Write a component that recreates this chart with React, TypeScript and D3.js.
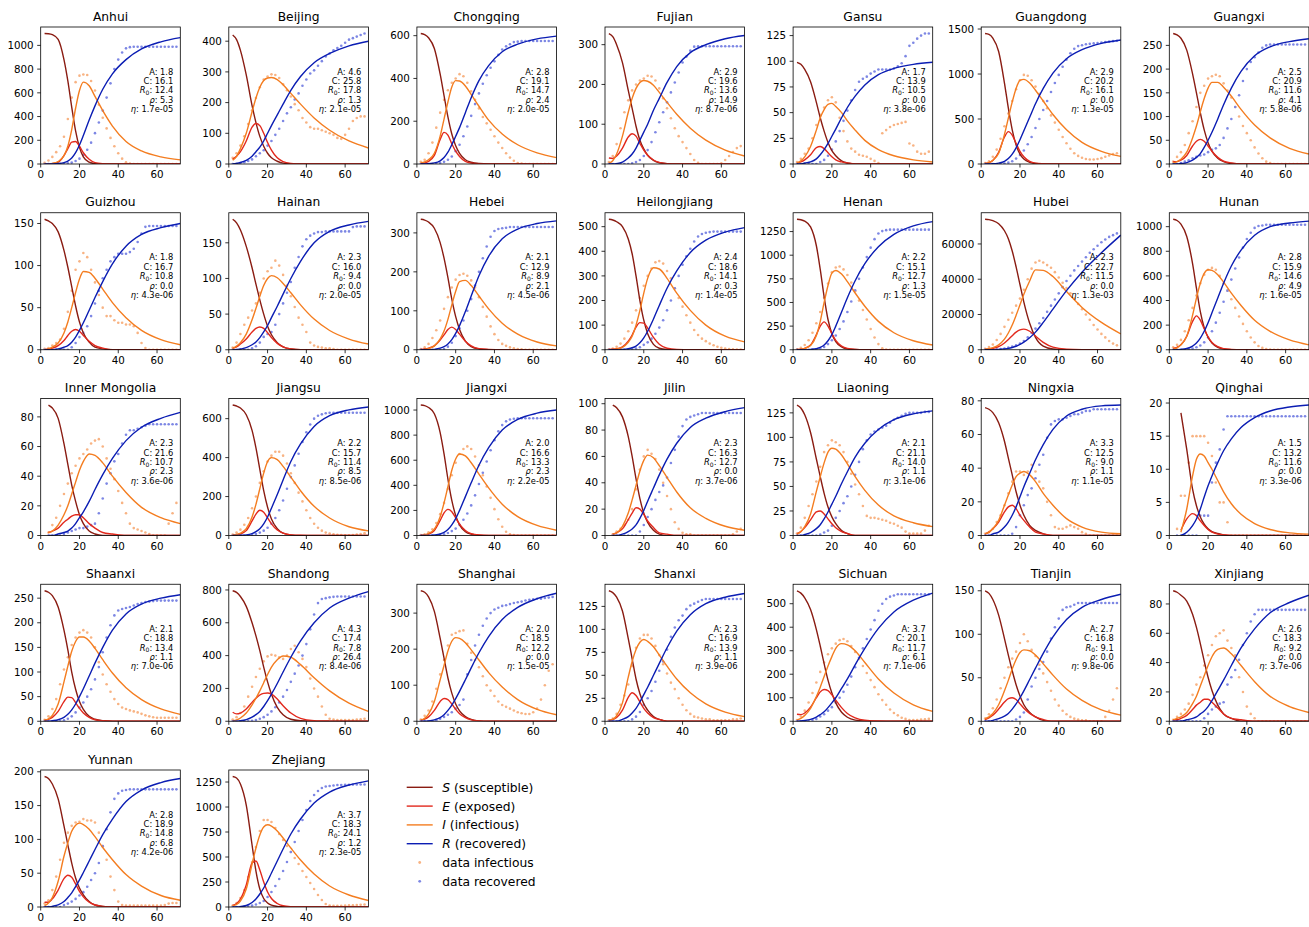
import React from "react";
import * as d3 from "d3";

// model time samples (days) and data days
const tModel = [2, 4, 6, 9, 12, 14, 16, 18, 20, 22, 25, 28, 32, 37, 44, 52, 62, 72];
const tData = [2, 4, 6, 8, 10, 12, 14, 16, 18, 20, 22, 24, 26, 28, 30, 32, 34, 36, 38, 40, 42, 44, 46, 48, 50, 52, 54, 56, 58, 60, 62, 64, 66, 68, 70];
const xTicks = [0, 20, 40, 60];

type V = number | null;

// ---------- Anhui
const anhui_S: V[] = [1100, 1098, 1090, 1050, 880, 700, 480, 280, 140, 60, 15, 3, 0, 0, 0, 0, 0, 0];
const anhui_E: V[] = [0, 1, 3, 15, 70, 130, 185, 190, 150, 95, 40, 12, 3, 0, 0, 0, 0, 0];
const anhui_I: V[] = [0, 2, 5, 20, 70, 150, 290, 470, 620, 690, 660, 570, 450, 320, 190, 110, 60, 35];
const anhui_R: V[] = [0, 0, 1, 4, 12, 25, 50, 95, 160, 240, 370, 490, 630, 760, 880, 970, 1030, 1065];
const anhui_dI: V[] = [10, 30, 60, 100, 150, 230, 380, 560, 690, 745, 755, 750, 700, 620, 500, 390, 300, 220, 150, 90, 45, 15, 3, 0, 0, 0, 0, 0, 0, 0, 0, 0, 0, 0, 0];
const anhui_dR: V[] = [0, 0, 0, 0, 0, 0, 5, 12, 25, 45, 75, 120, 180, 260, 350, 450, 560, 680, 800, 880, 940, 975, 985, 988, 988, 988, 988, 988, 988, 988, 988, 988, 988, 988, 988];
const anhui_p = ["1.8", "16.1", "12.4", "5.3", "1.7e-05"];

// ---------- Beijing
const beijing_S: V[] = [420, 405, 370, 290, 190, 135, 90, 58, 35, 20, 9, 3, 1, 0, 0, 0, 0, 0];
const beijing_E: V[] = [15, 25, 40, 75, 120, 132, 125, 100, 70, 45, 20, 8, 2, 0, 0, 0, 0, 0];
const beijing_I: V[] = [12, 25, 50, 100, 170, 215, 250, 272, 280, 282, 275, 258, 230, 195, 150, 110, 75, 52];
const beijing_R: V[] = [0, 2, 5, 12, 25, 40, 55, 75, 100, 125, 160, 195, 240, 285, 330, 360, 385, 400];
const beijing_dI: V[] = [20, 35, 60, 90, 130, 175, 215, 250, 275, 285, 292, 290, 280, 260, 240, 220, 195, 175, 150, 135, 120, 115, 115, 110, 105, 100, 95, 85, 82, 95, 115, 140, 150, 155, 155];
const beijing_dR: V[] = [0, 1, 3, 6, 10, 15, 25, 35, 45, 60, 75, 95, 115, 140, 165, 185, 210, 230, 255, 275, 295, 305, 320, 335, 350, 360, 370, 378, 385, 395, 405, 410, 415, 420, 425];
const beijing_p = ["4.6", "25.8", "17.8", "1.3", "2.1e-05"];

// ---------- Chongqing
const chongqing_S: V[] = [610, 605, 590, 540, 420, 320, 220, 140, 85, 50, 20, 8, 2, 0, 0, 0, 0, 0];
const chongqing_E: V[] = [2, 5, 12, 40, 115, 148, 135, 95, 60, 35, 12, 4, 1, 0, 0, 0, 0, 0];
const chongqing_I: V[] = [5, 10, 20, 50, 130, 210, 290, 360, 390, 388, 365, 325, 270, 205, 140, 90, 52, 30];
const chongqing_R: V[] = [0, 0, 2, 5, 15, 30, 55, 90, 130, 170, 240, 310, 390, 460, 525, 560, 585, 598];
const chongqing_dI: V[] = [10, 20, 50, 100, 170, 240, 300, 345, 380, 400, 420, 410, 380, 340, 300, 260, 220, 190, 160, 130, 100, 75, 50, 30, 15, 5, 2, 0, 0, 0, 0, 0, 0, 0, 0];
const chongqing_dR: V[] = [0, 0, 0, 0, 0, 5, 10, 20, 35, 60, 90, 130, 175, 225, 280, 330, 375, 415, 450, 480, 510, 535, 550, 560, 570, 572, 575, 575, 575, 575, 575, 575, 575, 575, 575];
const chongqing_p = ["2.8", "19.1", "14.7", "2.4", "2.0e-05"];

// ---------- Fujian
const fujian_S: V[] = [328, 320, 300, 255, 185, 140, 95, 60, 38, 22, 9, 3, 1, 0, 0, 0, 0, 0];
const fujian_E: V[] = [15, 14, 20, 40, 68, 76, 70, 52, 35, 22, 10, 4, 1, 0, 0, 0, 0, 0];
const fujian_I: V[] = [2, 8, 25, 70, 130, 165, 190, 205, 210, 208, 198, 180, 155, 125, 90, 60, 35, 20];
const fujian_R: V[] = [0, 0, 1, 5, 15, 25, 40, 60, 80, 100, 135, 165, 205, 245, 280, 300, 315, 323];
const fujian_dI: V[] = [5, 20, 50, 90, 130, 160, 185, 200, 210, 215, 222, 220, 210, 190, 165, 140, 115, 90, 70, 55, 40, 25, 10, 3, 0, 0, 0, 0, 0, 2, 10, 20, 30, 40, 45];
const fujian_dR: V[] = [0, 0, 0, 0, 0, 0, 2, 5, 10, 20, 35, 55, 80, 105, 130, 155, 180, 205, 230, 255, 270, 285, 295, 296, 296, 296, 296, 296, 296, 296, 296, 296, 296, 296, 296];
const fujian_p = ["2.9", "19.6", "13.6", "14.9", "8.7e-06"];

// ---------- Gansu
const gansu_S: V[] = [99, 97, 92, 80, 60, 45, 32, 21, 13, 8, 3, 1, 0, 0, 0, 0, 0, 0];
const gansu_E: V[] = [1, 2, 4, 9, 16, 17, 15, 11, 7, 4, 2, 1, 0, 0, 0, 0, 0, 0];
const gansu_I: V[] = [1, 3, 7, 17, 33, 45, 53, 58, 59, 56, 50, 42, 33, 23, 14, 8, 4, 2];
const gansu_R: V[] = [0, 0, 1, 2, 5, 9, 14, 20, 27, 34, 45, 55, 66, 77, 87, 93, 97, 99];
const gansu_dI: V[] = [2, 5, 10, 15, 25, 38, 48, 55, 62, 65, 60, 45, 32, 22, 15, 12, 9, 8, 7, 5, 3, 1, 30, 33, 36, 38, 39, 40, 41, 20, 18, 12, 10, 10, 12];
const gansu_dR: V[] = [0, 0, 0, 0, 0, 0, 2, 4, 8, 14, 22, 32, 42, 52, 62, 72, 80, 83, 85, 88, 90, 92, 92, 92, 92, 93, 95, 98, 105, 115, 118, 122, 125, 127, 127];
const gansu_p = ["1.7", "13.9", "10.5", "0.0", "3.8e-06"];

// ---------- Guangdong
const guangdong_S: V[] = [1450, 1440, 1400, 1250, 900, 620, 380, 210, 110, 55, 18, 5, 1, 0, 0, 0, 0, 0];
const guangdong_E: V[] = [5, 15, 40, 130, 300, 360, 320, 230, 140, 80, 30, 10, 3, 0, 0, 0, 0, 0];
const guangdong_I: V[] = [5, 15, 40, 120, 330, 510, 690, 840, 930, 940, 900, 820, 700, 550, 380, 240, 140, 85];
const guangdong_R: V[] = [0, 0, 2, 10, 30, 60, 110, 180, 270, 370, 520, 670, 840, 1010, 1170, 1270, 1340, 1378];
const guangdong_dI: V[] = [10, 30, 80, 160, 280, 420, 560, 700, 830, 930, 990, 980, 930, 860, 780, 700, 620, 540, 460, 380, 300, 230, 170, 120, 90, 70, 55, 50, 50, 55, 65, 80, 95, 110, 120];
const guangdong_dR: V[] = [0, 0, 0, 0, 0, 5, 15, 30, 60, 100, 150, 220, 300, 400, 500, 600, 700, 800, 900, 990, 1080, 1160, 1230, 1280, 1310, 1320, 1330, 1335, 1340, 1345, 1350, 1355, 1360, 1365, 1370];
const guangdong_p = ["2.9", "20.2", "16.1", "0.0", "1.3e-05"];

// ---------- Guangxi
const guangxi_S: V[] = [275, 272, 265, 240, 190, 150, 108, 72, 45, 27, 12, 5, 1, 0, 0, 0, 0, 0];
const guangxi_E: V[] = [5, 5, 8, 18, 38, 48, 52, 48, 38, 27, 14, 6, 2, 0, 0, 0, 0, 0];
const guangxi_I: V[] = [2, 5, 10, 25, 55, 80, 110, 138, 160, 172, 172, 162, 143, 115, 82, 55, 33, 21];
const guangxi_R: V[] = [0, 0, 1, 3, 8, 14, 22, 35, 50, 67, 95, 125, 160, 195, 228, 247, 258, 264];
const guangxi_dI: V[] = [5, 15, 25, 40, 65, 90, 120, 150, 165, 180, 185, 188, 185, 170, 155, 140, 120, 100, 80, 65, 50, 35, 22, 12, 5, 2, 0, 0, 0, 0, 0, 0, 0, 0, 0];
const guangxi_dR: V[] = [0, 0, 2, 5, 8, 12, 15, 18, 20, 25, 30, 33, 40, 55, 75, 95, 120, 145, 175, 200, 215, 225, 235, 245, 250, 252, 252, 252, 252, 252, 252, 252, 252, 252, 252];
const guangxi_p = ["2.5", "20.9", "11.6", "4.1", "5.8e-06"];

// ---------- Guizhou
const guizhou_S: V[] = [155, 153, 150, 140, 118, 98, 75, 52, 33, 20, 9, 3, 1, 0, 0, 0, 0, 0];
const guizhou_E: V[] = [0, 1, 2, 5, 11, 17, 22, 24, 22, 17, 10, 5, 2, 0, 0, 0, 0, 0];
const guizhou_I: V[] = [0, 1, 3, 8, 20, 33, 50, 68, 84, 93, 92, 85, 72, 56, 38, 23, 12, 6];
const guizhou_R: V[] = [0, 0, 0, 1, 3, 5, 9, 15, 23, 32, 47, 62, 81, 102, 123, 137, 145, 150];
const guizhou_dI: V[] = [1, 2, 5, 8, 12, 25, 45, 70, 95, 105, 115, 110, 95, 80, 65, 50, 40, 40, 35, 32, 32, 30, 30, 28, 20, 8, 2, 0, 0, 0, 0, 0, 0, 0, 0];
const guizhou_dR: V[] = [0, 0, 0, 0, 0, 0, 0, 3, 8, 15, 20, 28, 40, 55, 70, 85, 95, 105, 110, 114, 114, 114, 116, 120, 128, 138, 146, 147, 147, 147, 147, 147, 147, 147, 147];
const guizhou_p = ["1.8", "16.7", "10.8", "0.0", "4.3e-06"];

// ---------- Hainan
const hainan_S: V[] = [183, 178, 168, 145, 115, 92, 70, 50, 33, 21, 10, 4, 1, 0, 0, 0, 0, 0];
const hainan_E: V[] = [2, 4, 8, 15, 25, 30, 32, 30, 24, 17, 9, 4, 1, 0, 0, 0, 0, 0];
const hainan_I: V[] = [2, 5, 10, 22, 42, 58, 75, 90, 100, 104, 101, 93, 80, 63, 43, 27, 15, 8];
const hainan_R: V[] = [0, 0, 1, 3, 7, 11, 17, 25, 34, 45, 61, 78, 100, 124, 150, 166, 175, 180];
const hainan_dI: V[] = [3, 10, 22, 35, 45, 55, 65, 80, 100, 110, 115, 125, 118, 105, 90, 75, 60, 45, 35, 25, 10, 6, 4, 3, 2, 2, 1, 0, 0, 0, 0, 0, 0, 0, 0];
const hainan_dR: V[] = [0, 0, 0, 0, 0, 2, 5, 10, 18, 22, 25, 35, 50, 65, 80, 95, 115, 130, 145, 155, 160, 163, 165, 165, 166, 166, 166, 166, 166, 166, 166, 172, 173, 173, 173];
const hainan_p = ["2.3", "16.0", "9.4", "0.0", "2.0e-05"];

// ---------- Hebei
const hebei_S: V[] = [335, 333, 328, 312, 275, 235, 185, 130, 85, 52, 22, 8, 2, 0, 0, 0, 0, 0];
const hebei_E: V[] = [1, 2, 4, 10, 25, 38, 52, 58, 52, 40, 22, 10, 3, 1, 0, 0, 0, 0];
const hebei_I: V[] = [0, 1, 3, 10, 28, 48, 78, 115, 150, 175, 178, 165, 138, 105, 68, 40, 20, 10];
const hebei_R: V[] = [0, 0, 0, 1, 4, 8, 15, 26, 42, 62, 98, 138, 190, 240, 285, 310, 324, 331];
const hebei_dI: V[] = [2, 6, 15, 30, 50, 75, 105, 135, 160, 180, 192, 195, 190, 178, 160, 135, 110, 85, 60, 40, 25, 15, 10, 6, 4, 2, 1, 0, 0, 0, 0, 0, 0, 0, 0];
const hebei_dR: V[] = [0, 0, 0, 0, 0, 0, 2, 8, 18, 35, 55, 75, 100, 130, 165, 200, 235, 265, 290, 305, 310, 312, 313, 315, 315, 315, 315, 315, 315, 315, 315, 315, 315, 315, 315];
const hebei_p = ["2.1", "12.9", "8.9", "2.1", "4.5e-06"];

// ---------- Heilongjiang
const heilongjiang_S: V[] = [530, 527, 520, 500, 450, 390, 300, 200, 120, 65, 22, 6, 1, 0, 0, 0, 0, 0];
const heilongjiang_E: V[] = [1, 2, 4, 12, 35, 60, 92, 110, 108, 88, 50, 22, 6, 1, 0, 0, 0, 0];
const heilongjiang_I: V[] = [0, 1, 3, 10, 30, 55, 100, 160, 230, 290, 333, 328, 290, 230, 160, 100, 55, 32];
const heilongjiang_R: V[] = [0, 0, 0, 1, 4, 8, 15, 28, 48, 75, 125, 180, 250, 320, 395, 445, 478, 496];
const heilongjiang_dI: V[] = [2, 5, 12, 25, 45, 75, 110, 160, 210, 260, 300, 330, 355, 360, 350, 320, 290, 250, 210, 175, 140, 110, 80, 60, 45, 35, 25, 18, 12, 8, 5, 3, 2, 1, 1];
const heilongjiang_dR: V[] = [0, 0, 0, 0, 0, 0, 2, 5, 10, 20, 30, 45, 65, 90, 120, 160, 200, 250, 300, 345, 380, 410, 440, 460, 470, 475, 478, 480, 480, 480, 480, 480, 480, 480, 480];
const heilongjiang_p = ["2.4", "18.6", "14.1", "0.3", "1.4e-05"];

// ---------- Henan
const henan_S: V[] = [1380, 1375, 1360, 1300, 1100, 850, 560, 320, 170, 85, 30, 8, 2, 0, 0, 0, 0, 0];
const henan_E: V[] = [2, 5, 15, 50, 160, 250, 295, 250, 170, 100, 40, 14, 4, 1, 0, 0, 0, 0];
const henan_I: V[] = [2, 6, 15, 45, 150, 300, 500, 680, 810, 838, 800, 720, 600, 460, 300, 180, 95, 50];
const henan_R: V[] = [0, 0, 1, 4, 12, 25, 50, 95, 160, 250, 400, 550, 730, 910, 1090, 1220, 1310, 1355];
const henan_dI: V[] = [5, 20, 50, 100, 180, 280, 400, 550, 700, 820, 870, 880, 850, 790, 710, 620, 520, 420, 320, 220, 130, 60, 15, 2, 0, 0, 0, 0, 0, 0, 0, 0, 0, 0, 0];
const henan_dR: V[] = [0, 0, 0, 0, 0, 5, 15, 30, 60, 100, 150, 220, 300, 400, 510, 630, 750, 870, 980, 1080, 1170, 1230, 1255, 1265, 1270, 1270, 1270, 1270, 1270, 1270, 1270, 1270, 1270, 1270, 1270];
const henan_p = ["2.2", "15.1", "12.7", "1.3", "1.5e-05"];

// ---------- Hubei
const hubei_S: V[] = [74000, 73800, 73200, 71500, 67500, 63000, 56000, 47000, 37000, 27000, 15000, 7000, 2000, 400, 50, 0, 0, 0];
const hubei_E: V[] = [200, 400, 800, 1800, 3800, 5800, 8000, 10000, 11300, 11700, 10500, 7800, 4200, 1500, 300, 50, 0, 0];
const hubei_I: V[] = [300, 600, 1200, 2800, 6000, 9500, 14000, 19500, 25500, 31500, 39000, 45300, 45000, 41500, 33000, 24000, 15500, 9000];
const hubei_R: V[] = [0, 20, 60, 200, 500, 800, 1300, 2000, 3000, 4300, 6800, 10000, 15500, 23000, 33500, 44000, 55000, 65000];
const hubei_dI: V[] = [500, 1500, 3000, 5500, 9000, 13000, 17000, 21000, 25000, 29000, 34000, 40000, 46000, 49500, 50500, 49500, 48000, 46500, 44000, 41000, 38000, 35000, 32000, 29000, 26000, 23000, 20000, 17000, 14000, 11500, 9000, 7000, 5000, 3500, 2500];
const hubei_dR: V[] = [0, 0, 100, 200, 400, 700, 1200, 1800, 2500, 3500, 5000, 7000, 9500, 12000, 15000, 18000, 21500, 25000, 28500, 32000, 35500, 39000, 42000, 45000, 47500, 50000, 52500, 55000, 57000, 59000, 61000, 62500, 64000, 65000, 66000];
const hubei_p = ["2.3", "22.7", "11.5", "0.0", "1.3e-03"];

// ---------- Hunan
const hunan_S: V[] = [1060, 1050, 1020, 920, 700, 500, 310, 180, 100, 55, 20, 6, 1, 0, 0, 0, 0, 0];
const hunan_E: V[] = [10, 20, 40, 110, 230, 275, 240, 170, 105, 60, 25, 9, 3, 0, 0, 0, 0, 0];
const hunan_I: V[] = [5, 15, 40, 110, 280, 420, 540, 620, 650, 645, 610, 550, 460, 360, 240, 150, 80, 40];
const hunan_R: V[] = [0, 1, 3, 10, 30, 55, 95, 150, 220, 300, 420, 540, 680, 810, 930, 1000, 1030, 1045];
const hunan_dI: V[] = [20, 40, 80, 150, 240, 340, 440, 540, 610, 650, 665, 650, 600, 540, 480, 410, 340, 270, 210, 150, 100, 60, 30, 15, 5, 2, 0, 0, 0, 0, 0, 0, 0, 0, 0];
const hunan_dR: V[] = [0, 0, 0, 0, 5, 10, 20, 35, 60, 100, 150, 220, 300, 390, 480, 570, 660, 750, 830, 900, 950, 990, 1005, 1010, 1015, 1015, 1015, 1015, 1015, 1015, 1015, 1015, 1015, 1015, 1015];
const hunan_p = ["2.8", "15.9", "14.6", "4.9", "1.6e-05"];

// ---------- Inner Mongolia
const innermongolia_S: V[] = [null, 88, 86, 79, 62, 48, 34, 23, 14, 8, 3, 1, 0, 0, 0, 0, 0, 0];
const innermongolia_E: V[] = [null, 2, 3, 5, 9, 11, 13, 14, 14, 12, 8, 5, 2, 1, 0, 0, 0, 0];
const innermongolia_I: V[] = [null, 2, 3, 7, 14, 20, 28, 36, 44, 50, 55, 54, 49, 40, 29, 19, 12, 8];
const innermongolia_R: V[] = [null, 0, 0, 1, 2, 3, 5, 8, 12, 16, 23, 31, 41, 52, 64, 73, 79, 83];
const innermongolia_dI: V[] = [null, 2, 7, 12, 20, 28, 35, 42, 47, 52, 55, 58, 62, 64, 65, 60, 52, 45, 38, 30, 22, 15, 8, 5, 4, 3, 2, 1, 0, 0, 0, 0, 8, 15, 22];
const innermongolia_dR: V[] = [null, 0, 0, 0, 0, 1, 2, 3, 4, 5, 5, 6, 7, 8, 15, 25, 35, 42, 50, 55, 62, 68, 71, 71, 72, 73, 74, 75, 75, 75, 75, 75, 75, 75, 75];
const innermongolia_p = ["2.3", "21.6", "10.7", "2.3", "3.6e-06"];

// ---------- Jiangsu
const jiangsu_S: V[] = [670, 665, 655, 620, 540, 450, 340, 230, 145, 85, 35, 12, 3, 0, 0, 0, 0, 0];
const jiangsu_E: V[] = [2, 4, 8, 25, 75, 110, 130, 120, 90, 60, 28, 12, 3, 1, 0, 0, 0, 0];
const jiangsu_I: V[] = [2, 5, 12, 35, 95, 160, 240, 320, 380, 400, 390, 355, 300, 230, 150, 90, 45, 24];
const jiangsu_R: V[] = [0, 0, 1, 3, 10, 20, 35, 60, 95, 140, 210, 285, 380, 470, 560, 615, 645, 660];
const jiangsu_dI: V[] = [5, 15, 30, 55, 90, 140, 200, 270, 330, 380, 410, 430, 430, 410, 370, 320, 270, 220, 175, 130, 90, 60, 40, 25, 15, 10, 6, 4, 2, 1, 1, 2, 5, 8, 12];
const jiangsu_dR: V[] = [0, 0, 0, 0, 0, 3, 8, 15, 25, 40, 60, 90, 130, 180, 240, 300, 360, 420, 480, 530, 570, 600, 615, 622, 628, 630, 630, 630, 630, 630, 630, 630, 630, 630, 630];
const jiangsu_p = ["2.2", "15.7", "11.4", "8.5", "8.5e-06"];

// ---------- Jiangxi
const jiangxi_S: V[] = [1040, 1035, 1020, 970, 820, 650, 450, 280, 160, 85, 30, 10, 2, 0, 0, 0, 0, 0];
const jiangxi_E: V[] = [2, 5, 12, 40, 120, 180, 208, 190, 140, 90, 40, 15, 4, 1, 0, 0, 0, 0];
const jiangxi_I: V[] = [2, 5, 15, 50, 150, 260, 390, 520, 610, 650, 635, 580, 490, 380, 250, 150, 80, 42];
const jiangxi_R: V[] = [0, 0, 1, 4, 12, 25, 48, 85, 135, 200, 310, 420, 560, 700, 840, 925, 975, 1000];
const jiangxi_dI: V[] = [3, 10, 25, 50, 100, 170, 260, 370, 480, 580, 650, 690, 710, 690, 630, 560, 480, 390, 300, 210, 130, 70, 30, 10, 3, 0, 0, 0, 0, 0, 0, 0, 0, 0, 0];
const jiangxi_dR: V[] = [0, 0, 0, 0, 0, 5, 10, 20, 35, 55, 85, 125, 175, 240, 320, 410, 500, 590, 680, 760, 830, 880, 910, 925, 930, 935, 935, 935, 935, 935, 935, 935, 935, 935, 935];
const jiangxi_p = ["2.0", "16.6", "13.3", "2.3", "2.2e-05"];

// ---------- Jilin
const jilin_S: V[] = [null, 99, 97, 90, 75, 60, 43, 28, 17, 10, 4, 1, 0, 0, 0, 0, 0, 0];
const jilin_E: V[] = [null, 1, 2, 5, 12, 17, 21, 20, 16, 11, 6, 2, 1, 0, 0, 0, 0, 0];
const jilin_I: V[] = [null, 1, 2, 7, 17, 27, 38, 49, 57, 61, 59, 53, 44, 33, 21, 13, 7, 4];
const jilin_R: V[] = [null, 0, 0, 1, 3, 5, 8, 13, 19, 26, 36, 46, 58, 70, 82, 89, 94, 97];
const jilin_dI: V[] = [null, 1, 3, 5, 8, 12, 20, 35, 50, 60, 65, 62, 58, 50, 40, 30, 20, 10, 5, 2, 1, 1, 0, 0, 0, 0, 0, 0, 0, 0, 0, 0, 1, 3, 5];
const jilin_dR: V[] = [null, 0, 0, 0, 0, 0, 0, 0, 3, 8, 14, 20, 27, 33, 38, 44, 55, 65, 75, 83, 88, 90, 91, 92, 93, 93, 93, 93, 93, 93, 93, 93, 93, 93, 93];
const jilin_p = ["2.3", "16.3", "12.7", "0.0", "3.7e-06"];

// ---------- Liaoning
const liaoning_S: V[] = [133, 130, 123, 105, 78, 60, 43, 29, 19, 12, 5, 2, 0, 0, 0, 0, 0, 0];
const liaoning_E: V[] = [2, 4, 8, 16, 24, 25, 22, 17, 12, 8, 4, 2, 0, 0, 0, 0, 0, 0];
const liaoning_I: V[] = [1, 4, 9, 22, 45, 60, 74, 85, 89, 88, 82, 73, 60, 46, 31, 20, 13, 9];
const liaoning_R: V[] = [0, 0, 1, 3, 7, 11, 17, 24, 32, 40, 53, 65, 80, 94, 108, 118, 124, 127];
const liaoning_dI: V[] = [2, 8, 18, 30, 42, 55, 70, 85, 92, 97, 95, 92, 85, 75, 63, 52, 42, 30, 20, 18, 18, 17, 16, 15, 13, 12, 10, 8, 4, 2, 2, 2, 2, 5, 10];
const liaoning_dR: V[] = [0, 0, 0, 0, 0, 0, 1, 3, 5, 10, 18, 25, 33, 40, 50, 62, 75, 88, 97, 103, 106, 108, 110, 112, 115, 118, 120, 122, 124, 125, 125, 125, 125, 126, 126];
const liaoning_p = ["2.1", "21.1", "14.0", "1.1", "3.1e-06"];

// ---------- Ningxia
const ningxia_S: V[] = [76, 75, 73, 67, 56, 46, 36, 26, 18, 12, 6, 3, 1, 0, 0, 0, 0, 0];
const ningxia_E: V[] = [1, 2, 4, 8, 14, 17, 18, 16, 12, 9, 5, 2, 1, 0, 0, 0, 0, 0];
const ningxia_I: V[] = [1, 2, 4, 9, 18, 24, 30, 35, 37, 38, 36, 32, 25, 18, 10, 5, 2, 1];
const ningxia_R: V[] = [0, 0, 1, 2, 5, 8, 12, 17, 23, 29, 37, 45, 54, 63, 71, 75, 77, 77.5];
const ningxia_dI: V[] = [1, 2, 4, 8, 12, 18, 25, 32, 38, 38, 36, 38, 42, 38, 32, 28, 20, 12, 5, 4, 4, 5, 6, 5, 4, 2, 1, 0, 0, 0, 0, 0, 0, 0, 0];
const ningxia_dR: V[] = [0, 0, 0, 0, 0, 0, 0, 1, 5, 12, 18, 24, 28, 34, 42, 48, 58, 66, 68, 69, 69, 70, 71, 72, 72, 73, 74, 74, 75, 75, 75, 75, 75, 75, 75];
const ningxia_p = ["3.3", "12.5", "9.0", "1.1", "1.1e-05"];

// ---------- Qinghai
const qinghai_S: V[] = [null, null, 18.5, 13, 7, 4.5, 2.8, 1.7, 1, 0.6, 0.3, 0.1, 0, 0, 0, 0, 0, 0];
const qinghai_E: V[] = [null, null, 0.8, 2.5, 3.3, 3, 2.2, 1.5, 0.9, 0.5, 0.2, 0.1, 0, 0, 0, 0, 0, 0];
const qinghai_I: V[] = [null, null, 0.5, 4, 9, 11.5, 12.3, 12, 11, 10, 8.3, 6.6, 4.8, 3.2, 1.8, 0.9, 0.4, 0.2];
const qinghai_R: V[] = [null, null, 0, 0.5, 1.5, 2.5, 4, 5.8, 7.5, 9, 11, 12.8, 14.6, 16.3, 17.8, 18.8, 19.4, 19.7];
const qinghai_dI: V[] = [null, 1, 6, 6, 11, 15, 15, 15, 15, 14, 12, 8, 5, 5, 2, 0, 0, 0, 0, 0, 0, 0, 0, 0, 0, 0, 0, 0, 0, 0, 0, 0, 0, 0, 0];
const qinghai_dR: V[] = [null, 0, 0, 0, 0, 0, 0, 3, 3, 3, 8, 11, 13, 16, 18, 18, 18, 18, 18, 18, 18, 18, 18, 18, 18, 18, 18, 18, 18, 18, 18, 18, 18, 18, 18];
const qinghai_p = ["1.5", "13.2", "11.6", "0.0", "3.3e-06"];

// ---------- Shaanxi
const shaanxi_S: V[] = [265, 262, 255, 232, 185, 145, 100, 65, 40, 24, 10, 4, 1, 0, 0, 0, 0, 0];
const shaanxi_E: V[] = [2, 4, 8, 20, 40, 49, 48, 38, 26, 17, 8, 3, 1, 0, 0, 0, 0, 0];
const shaanxi_I: V[] = [2, 5, 12, 35, 80, 112, 142, 162, 171, 171, 163, 148, 125, 98, 68, 44, 25, 14];
const shaanxi_R: V[] = [0, 0, 1, 3, 8, 14, 23, 35, 50, 66, 92, 118, 150, 185, 218, 238, 250, 257];
const shaanxi_dI: V[] = [3, 10, 25, 45, 75, 105, 130, 155, 170, 180, 185, 180, 170, 150, 120, 95, 75, 60, 45, 35, 28, 25, 22, 20, 18, 15, 12, 10, 8, 7, 7, 7, 7, 7, 7];
const shaanxi_dR: V[] = [0, 0, 0, 0, 0, 2, 5, 10, 18, 28, 38, 50, 65, 85, 110, 140, 170, 195, 215, 225, 228, 230, 232, 235, 238, 240, 242, 243, 244, 245, 245, 245, 245, 245, 245];
const shaanxi_p = ["2.1", "18.8", "13.4", "1.1", "7.0e-06"];

// ---------- Shandong
const shandong_S: V[] = [795, 785, 760, 700, 600, 520, 430, 330, 240, 165, 85, 40, 12, 3, 0, 0, 0, 0];
const shandong_E: V[] = [55, 45, 50, 75, 115, 140, 160, 170, 172, 165, 135, 95, 50, 18, 4, 1, 0, 0];
const shandong_I: V[] = [2, 8, 20, 50, 100, 140, 185, 235, 285, 330, 375, 398, 390, 345, 265, 185, 110, 60];
const shandong_R: V[] = [0, 1, 3, 10, 25, 40, 60, 90, 125, 165, 230, 300, 390, 490, 600, 690, 750, 790];
const shandong_dI: V[] = [10, 25, 50, 90, 150, 210, 270, 320, 365, 395, 405, 400, 390, 380, 400, 440, 460, 420, 380, 330, 260, 200, 150, 90, 40, 15, 10, 8, 8, 8, 8, 8, 10, 12, 15];
const shandong_dR: V[] = [0, 0, 0, 0, 0, 3, 8, 15, 25, 40, 60, 85, 115, 150, 190, 240, 290, 340, 400, 470, 560, 650, 720, 745, 750, 755, 758, 760, 760, 760, 760, 760, 760, 760, 760];
const shandong_p = ["4.3", "17.4", "7.8", "26.4", "8.4e-06"];

// ---------- Shanghai
const shanghai_S: V[] = [362, 358, 345, 305, 230, 175, 120, 78, 48, 29, 13, 5, 1, 0, 0, 0, 0, 0];
const shanghai_E: V[] = [3, 6, 12, 30, 55, 63, 60, 48, 33, 21, 10, 4, 1, 0, 0, 0, 0, 0];
const shanghai_I: V[] = [3, 8, 20, 55, 115, 155, 195, 222, 232, 230, 218, 198, 170, 135, 95, 60, 33, 18];
const shanghai_R: V[] = [0, 0, 1, 4, 10, 18, 30, 45, 63, 83, 115, 148, 190, 235, 282, 316, 340, 355];
const shanghai_dI: V[] = [5, 15, 30, 55, 90, 130, 170, 210, 240, 245, 250, 252, 215, 190, 170, 150, 125, 100, 85, 70, 55, 45, 40, 35, 30, 25, 22, 20, 20, 25, 35, 60, 100, 140, 158];
const shanghai_dR: V[] = [0, 0, 0, 0, 3, 7, 12, 18, 25, 35, 45, 60, 130, 170, 210, 240, 265, 285, 300, 310, 315, 320, 322, 325, 328, 330, 332, 335, 337, 338, 340, 340, 342, 343, 345];
const shanghai_p = ["2.0", "18.5", "12.2", "0.0", "1.5e-05"];

// ---------- Shanxi
const shanxi_S: V[] = [142, 140, 135, 120, 90, 68, 46, 30, 19, 12, 5, 2, 0, 0, 0, 0, 0, 0];
const shanxi_E: V[] = [1, 2, 4, 12, 26, 31, 28, 21, 14, 9, 4, 2, 0, 0, 0, 0, 0, 0];
const shanxi_I: V[] = [1, 2, 6, 20, 48, 65, 78, 86, 89, 87, 81, 72, 60, 46, 31, 19, 10, 5];
const shanxi_R: V[] = [0, 0, 0, 2, 5, 9, 14, 21, 29, 37, 50, 63, 80, 98, 116, 128, 135, 139];
const shanxi_dI: V[] = [1, 3, 8, 18, 28, 40, 60, 80, 90, 94, 94, 90, 82, 72, 62, 52, 42, 35, 25, 18, 12, 8, 5, 4, 3, 2, 2, 1, 1, 1, 1, 1, 2, 2, 3];
const shanxi_dR: V[] = [0, 0, 0, 0, 0, 0, 2, 5, 10, 18, 25, 33, 43, 55, 65, 78, 92, 102, 110, 115, 122, 126, 128, 130, 132, 133, 133, 133, 133, 133, 133, 133, 133, 133, 133];
const shanxi_p = ["2.3", "16.9", "13.9", "1.1", "3.9e-06"];

// ---------- Sichuan
const sichuan_S: V[] = [555, 545, 525, 475, 390, 320, 245, 175, 120, 78, 38, 17, 5, 1, 0, 0, 0, 0];
const sichuan_E: V[] = [30, 28, 35, 60, 100, 125, 135, 130, 112, 90, 58, 33, 14, 4, 1, 0, 0, 0];
const sichuan_I: V[] = [5, 12, 25, 55, 105, 145, 190, 235, 275, 310, 330, 325, 300, 250, 180, 120, 70, 42];
const sichuan_R: V[] = [0, 1, 3, 8, 18, 28, 40, 58, 78, 100, 140, 180, 240, 310, 395, 465, 515, 545];
const sichuan_dI: V[] = [5, 20, 45, 80, 120, 165, 210, 250, 285, 310, 330, 345, 350, 340, 320, 295, 265, 235, 205, 175, 145, 115, 90, 70, 50, 35, 25, 15, 10, 5, 5, 5, 7, 8, 10];
const sichuan_dR: V[] = [0, 0, 0, 0, 5, 10, 20, 30, 45, 60, 80, 100, 125, 155, 190, 230, 270, 310, 350, 390, 430, 470, 500, 520, 530, 535, 540, 540, 540, 540, 540, 540, 540, 540, 540];
const sichuan_p = ["3.7", "20.1", "11.7", "6.1", "7.1e-06"];

// ---------- Tianjin
const tianjin_S: V[] = [150, 147, 140, 122, 95, 76, 58, 42, 29, 19, 10, 5, 1, 0, 0, 0, 0, 0];
const tianjin_E: V[] = [2, 4, 7, 14, 22, 26, 27, 25, 20, 15, 9, 5, 2, 0, 0, 0, 0, 0];
const tianjin_I: V[] = [3, 5, 9, 19, 35, 47, 60, 71, 79, 82, 81, 76, 66, 53, 37, 24, 13, 7];
const tianjin_R: V[] = [0, 0, 1, 3, 6, 9, 14, 20, 27, 35, 48, 61, 78, 97, 117, 131, 140, 146];
const tianjin_dI: V[] = [3, 8, 15, 25, 38, 50, 62, 72, 80, 90, 100, 92, 82, 75, 65, 55, 45, 35, 25, 18, 12, 8, 5, 3, 2, 1, 1, 0, 0, 0, 0, 5, 12, 25, 38];
const tianjin_dR: V[] = [0, 0, 0, 0, 0, 0, 0, 0, 2, 5, 10, 25, 40, 50, 60, 68, 80, 95, 108, 118, 128, 131, 132, 134, 136, 136, 136, 136, 136, 136, 136, 136, 136, 136, 136];
const tianjin_p = ["2.7", "16.8", "9.1", "0.0", "9.8e-06"];

// ---------- Xinjiang
const xinjiang_S: V[] = [89, 88, 86, 82, 73, 64, 53, 41, 30, 21, 11, 5, 2, 0, 0, 0, 0, 0];
const xinjiang_E: V[] = [1, 1, 2, 4, 8, 11, 13, 15, 15, 13, 9, 5, 2, 1, 0, 0, 0, 0];
const xinjiang_I: V[] = [1, 2, 3, 6, 12, 17, 24, 31, 38, 44, 49, 50, 46, 38, 27, 17, 10, 6];
const xinjiang_R: V[] = [0, 0, 0, 1, 2, 3, 5, 7, 10, 14, 21, 28, 38, 50, 63, 74, 81, 86];
const xinjiang_dI: V[] = [1, 3, 5, 8, 12, 18, 25, 30, 38, 45, 52, 58, 60, 62, 55, 50, 45, 30, 20, 10, 5, 2, 0, 0, 0, 0, 0, 0, 0, 0, 0, 0, 0, 0, 0];
const xinjiang_dR: V[] = [0, 0, 0, 0, 0, 0, 0, 0, 2, 5, 8, 10, 12, 13, 25, 30, 35, 42, 52, 60, 68, 73, 76, 76, 76, 76, 76, 76, 76, 76, 76, 76, 76, 76, 76];
const xinjiang_p = ["2.6", "18.3", "9.2", "0.0", "3.7e-06"];

// ---------- Yunnan
const yunnan_S: V[] = [193, 190, 182, 160, 120, 92, 65, 43, 28, 18, 8, 3, 1, 0, 0, 0, 0, 0];
const yunnan_E: V[] = [7, 7, 12, 25, 42, 47, 44, 34, 23, 15, 7, 3, 1, 0, 0, 0, 0, 0];
const yunnan_I: V[] = [2, 6, 14, 38, 75, 95, 112, 121, 124, 122, 115, 104, 88, 70, 48, 31, 17, 10];
const yunnan_R: V[] = [0, 0, 1, 3, 8, 14, 21, 30, 40, 51, 68, 85, 107, 130, 156, 173, 184, 190];
const yunnan_dI: V[] = [5, 10, 25, 45, 70, 95, 110, 120, 125, 126, 130, 128, 128, 125, 110, 90, 70, 45, 25, 8, 3, 2, 2, 2, 2, 2, 2, 2, 2, 2, 2, 3, 5, 6, 6];
const yunnan_dR: V[] = [0, 0, 0, 0, 0, 3, 5, 8, 12, 17, 22, 30, 40, 50, 65, 90, 115, 140, 160, 168, 172, 173, 174, 174, 174, 174, 174, 174, 174, 174, 174, 174, 174, 174, 174];
const yunnan_p = ["2.8", "18.9", "14.8", "6.8", "4.2e-06"];

// ---------- Zhejiang
const zhejiang_S: V[] = [1305, 1290, 1230, 1020, 620, 360, 180, 85, 40, 18, 6, 2, 0, 0, 0, 0, 0, 0];
const zhejiang_E: V[] = [15, 35, 80, 220, 440, 460, 370, 250, 150, 85, 35, 12, 3, 0, 0, 0, 0, 0];
const zhejiang_I: V[] = [10, 25, 60, 180, 430, 590, 720, 800, 822, 810, 760, 690, 590, 470, 330, 210, 120, 65];
const zhejiang_R: V[] = [0, 1, 4, 15, 45, 80, 130, 190, 260, 340, 460, 580, 730, 880, 1040, 1150, 1220, 1262];
const zhejiang_dI: V[] = [15, 40, 90, 170, 300, 450, 600, 760, 870, 870, 850, 790, 730, 670, 610, 550, 490, 430, 360, 300, 240, 180, 120, 70, 30, 15, 12, 12, 12, 14, 16, 18, 20, 22, 25];
const zhejiang_dR: V[] = [0, 0, 0, 5, 10, 15, 25, 40, 60, 100, 150, 210, 280, 360, 450, 550, 650, 760, 870, 970, 1060, 1120, 1160, 1190, 1205, 1210, 1215, 1220, 1220, 1222, 1223, 1224, 1225, 1225, 1225];
const zhejiang_p = ["3.7", "18.3", "24.1", "1.2", "2.3e-05"];

type Panel = { name: string; S: V[]; E: V[]; I: V[]; R: V[]; dI: V[]; dR: V[]; p: string[] };
const mkP = (name: string, S: V[], E: V[], I: V[], R: V[], dI: V[], dR: V[], p: string[]): Panel => ({ name, S, E, I, R, dI, dR, p });

const PANELS: Panel[] = [
  mkP("Anhui", anhui_S, anhui_E, anhui_I, anhui_R, anhui_dI, anhui_dR, anhui_p),
  mkP("Beijing", beijing_S, beijing_E, beijing_I, beijing_R, beijing_dI, beijing_dR, beijing_p),
  mkP("Chongqing", chongqing_S, chongqing_E, chongqing_I, chongqing_R, chongqing_dI, chongqing_dR, chongqing_p),
  mkP("Fujian", fujian_S, fujian_E, fujian_I, fujian_R, fujian_dI, fujian_dR, fujian_p),
  mkP("Gansu", gansu_S, gansu_E, gansu_I, gansu_R, gansu_dI, gansu_dR, gansu_p),
  mkP("Guangdong", guangdong_S, guangdong_E, guangdong_I, guangdong_R, guangdong_dI, guangdong_dR, guangdong_p),
  mkP("Guangxi", guangxi_S, guangxi_E, guangxi_I, guangxi_R, guangxi_dI, guangxi_dR, guangxi_p),
  mkP("Guizhou", guizhou_S, guizhou_E, guizhou_I, guizhou_R, guizhou_dI, guizhou_dR, guizhou_p),
  mkP("Hainan", hainan_S, hainan_E, hainan_I, hainan_R, hainan_dI, hainan_dR, hainan_p),
  mkP("Hebei", hebei_S, hebei_E, hebei_I, hebei_R, hebei_dI, hebei_dR, hebei_p),
  mkP("Heilongjiang", heilongjiang_S, heilongjiang_E, heilongjiang_I, heilongjiang_R, heilongjiang_dI, heilongjiang_dR, heilongjiang_p),
  mkP("Henan", henan_S, henan_E, henan_I, henan_R, henan_dI, henan_dR, henan_p),
  mkP("Hubei", hubei_S, hubei_E, hubei_I, hubei_R, hubei_dI, hubei_dR, hubei_p),
  mkP("Hunan", hunan_S, hunan_E, hunan_I, hunan_R, hunan_dI, hunan_dR, hunan_p),
  mkP("Inner Mongolia", innermongolia_S, innermongolia_E, innermongolia_I, innermongolia_R, innermongolia_dI, innermongolia_dR, innermongolia_p),
  mkP("Jiangsu", jiangsu_S, jiangsu_E, jiangsu_I, jiangsu_R, jiangsu_dI, jiangsu_dR, jiangsu_p),
  mkP("Jiangxi", jiangxi_S, jiangxi_E, jiangxi_I, jiangxi_R, jiangxi_dI, jiangxi_dR, jiangxi_p),
  mkP("Jilin", jilin_S, jilin_E, jilin_I, jilin_R, jilin_dI, jilin_dR, jilin_p),
  mkP("Liaoning", liaoning_S, liaoning_E, liaoning_I, liaoning_R, liaoning_dI, liaoning_dR, liaoning_p),
  mkP("Ningxia", ningxia_S, ningxia_E, ningxia_I, ningxia_R, ningxia_dI, ningxia_dR, ningxia_p),
  mkP("Qinghai", qinghai_S, qinghai_E, qinghai_I, qinghai_R, qinghai_dI, qinghai_dR, qinghai_p),
  mkP("Shaanxi", shaanxi_S, shaanxi_E, shaanxi_I, shaanxi_R, shaanxi_dI, shaanxi_dR, shaanxi_p),
  mkP("Shandong", shandong_S, shandong_E, shandong_I, shandong_R, shandong_dI, shandong_dR, shandong_p),
  mkP("Shanghai", shanghai_S, shanghai_E, shanghai_I, shanghai_R, shanghai_dI, shanghai_dR, shanghai_p),
  mkP("Shanxi", shanxi_S, shanxi_E, shanxi_I, shanxi_R, shanxi_dI, shanxi_dR, shanxi_p),
  mkP("Sichuan", sichuan_S, sichuan_E, sichuan_I, sichuan_R, sichuan_dI, sichuan_dR, sichuan_p),
  mkP("Tianjin", tianjin_S, tianjin_E, tianjin_I, tianjin_R, tianjin_dI, tianjin_dR, tianjin_p),
  mkP("Xinjiang", xinjiang_S, xinjiang_E, xinjiang_I, xinjiang_R, xinjiang_dI, xinjiang_dR, xinjiang_p),
  mkP("Yunnan", yunnan_S, yunnan_E, yunnan_I, yunnan_R, yunnan_dI, yunnan_dR, yunnan_p),
  mkP("Zhejiang", zhejiang_S, zhejiang_E, zhejiang_I, zhejiang_R, zhejiang_dI, zhejiang_dR, zhejiang_p),
];

const COL = {
  S: "#8a1c12",
  E: "#e2291d",
  I: "#f47d20",
  R: "#0b1db3",
  dI: "#f8b383",
  dR: "#7d87e4",
};

const FONT = "'DejaVu Sans', 'Liberation Sans', sans-serif";

// matplotlib-like MaxNLocator (nbins 6, steps 1,2,2.5,5,10)
function mplTicks(max: number): number[] {
  const nbins = 6;
  const raw = max / nbins;
  const mag = Math.pow(10, Math.floor(Math.log10(raw)));
  const steps = [1, 2, 2.5, 5, 10];
  let step = 10 * mag;
  for (const s of steps) {
    if (s * mag >= raw - 1e-12) {
      step = s * mag;
      break;
    }
  }
  const out: number[] = [];
  for (let k = 0; k * step <= max + 1e-9; k++) out.push(+(k * step).toFixed(6));
  return out;
}

function PanelView({ idx, p }: { idx: number; p: Panel }) {
  const col = idx % 7;
  const row = Math.floor(idx / 7);
  const W = 139.6;
  const H = 137;
  const L = 40.7 + col * 188.1;
  const T = 27 + row * 185.75;
  const B = T + H;
  const x = d3.scaleLinear().domain([0, 72]).range([L, L + W]);
  const vals = ([] as V[]).concat(p.S, p.E, p.I, p.R, p.dI, p.dR).filter((v) => v != null) as number[];
  const ymax = (d3.max(vals) ?? 1) * 1.05;
  const y = d3.scaleLinear().domain([0, ymax]).range([B, T]);
  const yTicks = mplTicks(ymax);
  const mk = (arr: V[]) =>
    d3
      .line<V>()
      .defined((v) => v != null)
      .x((_, i) => x(tModel[i]))
      .y((v) => y(v as number))
      .curve(d3.curveMonotoneX)(arr) ?? "";
  const clipId = `clip-${idx}`;
  const px = L + W - 7;
  const py = T + 47.7;
  const lh = 9.35;
  const fs = 8.3;
  return (
    <g>
      <defs>
        <clipPath id={clipId}>
          <rect x={L} y={T} width={W} height={H} />
        </clipPath>
      </defs>
      <g clipPath={`url(#${clipId})`}>
        {p.dI.map((v, i) =>
          v == null ? null : <circle key={"i" + i} cx={x(tData[i])} cy={y(v)} r={1.3} fill={COL.dI} />
        )}
        {p.dR.map((v, i) =>
          v == null ? null : <circle key={"r" + i} cx={x(tData[i])} cy={y(v)} r={1.3} fill={COL.dR} />
        )}
        <path d={mk(p.S)} fill="none" stroke={COL.S} strokeWidth={1.4} />
        <path d={mk(p.E)} fill="none" stroke={COL.E} strokeWidth={1.4} />
        <path d={mk(p.I)} fill="none" stroke={COL.I} strokeWidth={1.4} />
        <path d={mk(p.R)} fill="none" stroke={COL.R} strokeWidth={1.4} />
      </g>
      <rect x={L} y={T} width={W} height={H} fill="none" stroke="#000" strokeWidth={0.8} />
      {xTicks.map((t) => (
        <g key={"xt" + t}>
          <line x1={x(t)} x2={x(t)} y1={B} y2={B + 3.5} stroke="#000" strokeWidth={0.8} />
          <text x={x(t)} y={B + 14} textAnchor="middle" fontSize={10.3} fontFamily={FONT} fill="#000">
            {t}
          </text>
        </g>
      ))}
      {yTicks.map((t) => (
        <g key={"yt" + t}>
          <line x1={L - 3.5} x2={L} y1={y(t)} y2={y(t)} stroke="#000" strokeWidth={0.8} />
          <text x={L - 7} y={y(t) + 3.7} textAnchor="end" fontSize={10.3} fontFamily={FONT} fill="#000">
            {String(t)}
          </text>
        </g>
      ))}
      <text x={L + W / 2} y={T - 6.5} textAnchor="middle" fontSize={12.3} fontFamily={FONT} fill="#000">
        {p.name}
      </text>
      <g fontSize={fs} fontFamily={FONT} fill="#000" textAnchor="end">
        <text x={px} y={py}>{"A: " + p.p[0]}</text>
        <text x={px} y={py + lh}>{"C: " + p.p[1]}</text>
        <text x={px} y={py + 2 * lh}>
          <tspan fontStyle="italic">R</tspan>
          <tspan fontSize={6} dy={1.8}>0</tspan>
          <tspan dy={-1.8}>{": " + p.p[2]}</tspan>
        </text>
        <text x={px} y={py + 3 * lh}>
          <tspan fontStyle="italic">ρ</tspan>
          <tspan>{": " + p.p[3]}</tspan>
        </text>
        <text x={px} y={py + 4 * lh}>
          <tspan fontStyle="italic">η</tspan>
          <tspan>{": " + p.p[4]}</tspan>
        </text>
      </g>
    </g>
  );
}

const legendItems = [
  { kind: "line", color: COL.S, sym: "S", label: " (susceptible)" },
  { kind: "line", color: COL.E, sym: "E", label: " (exposed)" },
  { kind: "line", color: COL.I, sym: "I", label: " (infectious)" },
  { kind: "line", color: COL.R, sym: "R", label: " (recovered)" },
  { kind: "dot", color: COL.dI, sym: "", label: "data infectious" },
  { kind: "dot", color: COL.dR, sym: "", label: "data recovered" },
];

function Legend() {
  const x0 = 406.7;
  const x1 = 432.7;
  const tx = 442.3;
  const y0 = 787.3;
  const dy = 18.8;
  return (
    <g fontFamily={FONT} fontSize={12.3} fill="#000">
      {legendItems.map((it, i) => {
        const yy = y0 + i * dy;
        return (
          <g key={"lg" + i}>
            {it.kind === "line" ? (
              <line x1={x0} x2={x1} y1={yy} y2={yy} stroke={it.color} strokeWidth={1.4} />
            ) : (
              <circle cx={(x0 + x1) / 2} cy={yy} r={1.4} fill={it.color} />
            )}
            <text x={tx} y={yy + 4.4}>
              {it.sym ? <tspan fontStyle="italic">{it.sym}</tspan> : null}
              <tspan>{it.label}</tspan>
            </text>
          </g>
        );
      })}
    </g>
  );
}

export default function App() {
  return (
    <div style={{ position: "absolute", left: 0, top: 0 }}>
      <svg width={1309} height={927} style={{ display: "block", background: "#fff" }}>
        {PANELS.map((p, i) => (
          <PanelView key={p.name} idx={i} p={p} />
        ))}
        <Legend />
      </svg>
    </div>
  );
}
